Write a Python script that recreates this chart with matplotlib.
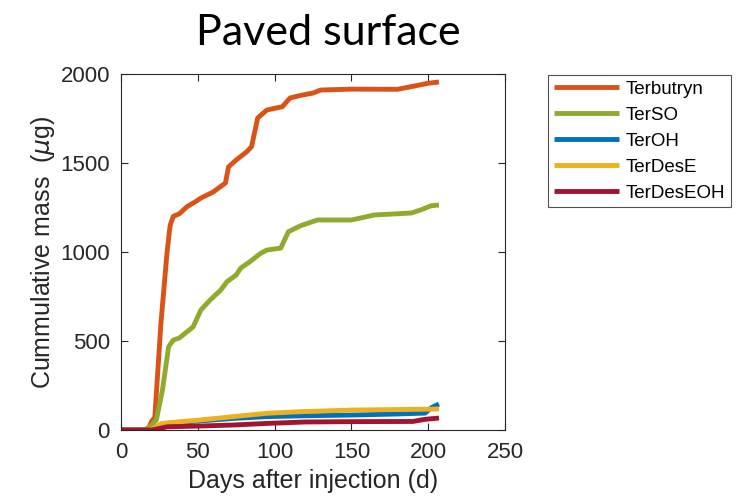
import numpy as np
import matplotlib
matplotlib.use("Agg")
import matplotlib.pyplot as plt

# values (days, cumulative mass in ug)
terbutryn_days = [0, 15, 18, 20, 22, 26, 30, 32, 34, 38, 43, 48, 52, 60, 68, 70, 75, 82, 85,
                  89, 95, 105, 110, 117, 125, 130, 150, 180, 189, 200, 207]
terbutryn_mass = [0, 0, 10, 50, 70, 600, 1000, 1150, 1200, 1215, 1255, 1280, 1303, 1337, 1388,
                  1478, 1517, 1564, 1592, 1753, 1798, 1816, 1865, 1880, 1893, 1910, 1915, 1914,
                  1929, 1948, 1955]

terso_days = [0, 15, 19, 23, 27, 31, 34, 38, 43, 47, 52, 58, 65, 69, 75, 78, 84, 91, 95,
              104, 109, 117, 128, 150, 156, 165, 189, 195, 202, 207]
terso_mass = [0, 0, 18, 56, 225, 468, 505, 517, 552, 580, 674, 730, 787, 833, 871, 910, 946,
              993, 1011, 1022, 1114, 1148, 1180, 1180, 1191, 1208, 1219, 1236, 1260, 1264]

teroh_days = [0, 18, 22, 26, 30, 50, 73, 95, 120, 150, 180, 198, 202, 207]
teroh_mass = [0, 0, 10, 30, 37, 50, 65, 75, 80, 84, 90, 95, 125, 146]

terdese_days = [0, 18, 22, 26, 30, 50, 73, 95, 117, 150, 180, 200, 207]
terdese_mass = [0, 0, 12, 35, 40, 55, 75, 94, 103, 112, 115, 117, 118]

terdeseoh_days = [0, 20, 26, 30, 50, 73, 95, 120, 150, 190, 198, 207]
terdeseoh_mass = [0, 0, 10, 18, 22, 28, 37, 45, 47, 48, 60, 67]

labels = ["Terbutryn", "TerSO", "TerOH", "TerDesE", "TerDesEOH"]
colors = ["#D95319", "#8FAA2C", "#0072BD", "#EDB120", "#A2142F"]

series = [(terbutryn_days, terbutryn_mass), (terso_days, terso_mass),
          (teroh_days, teroh_mass), (terdese_days, terdese_mass),
          (terdeseoh_days, terdeseoh_mass)]

plt.rcParams['font.family'] = ['Liberation Sans', 'DejaVu Sans']
grey = '#262626'

fig = plt.figure(figsize=(7.39, 4.97), dpi=100)
ax = fig.add_axes([121 / 739, 1 - 430 / 497, 384 / 739, 356 / 497])

for (d, m), lab, col in zip(series, labels, colors):
    ax.plot(d, m, color=col, lw=3.5, label=lab, solid_capstyle='butt')

ax.set_xlim(0, 250)
ax.set_ylim(0, 2000)
ax.set_xticks([0, 50, 100, 150, 200, 250])
ax.set_yticks([0, 500, 1000, 1500, 2000])
ax.tick_params(direction='in', top=True, right=True, length=5, width=0.8,
               colors=grey, labelsize=16)
ax.tick_params(axis='x', pad=9)
ax.tick_params(axis='y', pad=8)
for s in ax.spines.values():
    s.set_color(grey)
    s.set_linewidth(0.8)

ax.set_xlabel("Days after injection (d)", fontsize=18, color=grey, labelpad=4)
ax.set_ylabel("Cummulative mass  ($\\mu$g)", fontsize=18, color=grey, labelpad=2)

fig.text(328 / 739, 1 - 33 / 497, "Paved surface", fontsize=31, family='Lato',
         ha='center', va='center', color='black')

leg = fig.legend(loc='upper left', bbox_to_anchor=(548 / 739, 1 - 75 / 497),
                 fontsize=13.5, frameon=True, fancybox=False, handlelength=3.5,
                 handletextpad=0.35, labelspacing=0.47, borderpad=0.3,
                 borderaxespad=0)
leg.get_frame().set_edgecolor(grey)
leg.get_frame().set_linewidth(0.8)

fig.savefig("out.png", dpi=100)
